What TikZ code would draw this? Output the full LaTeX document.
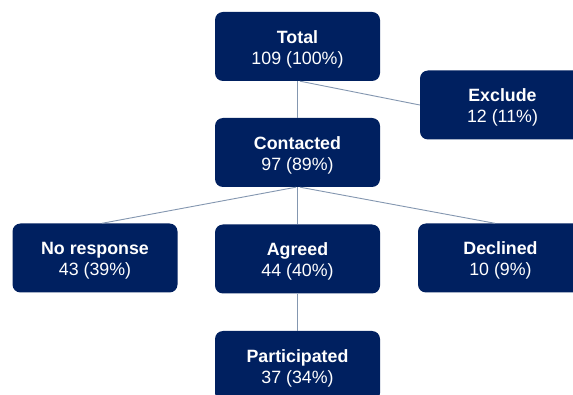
\documentclass[tikz,border=0pt]{standalone}
\usepackage{fontspec}
\setmainfont{Liberation Sans}
\usetikzlibrary{calc}
\definecolor{boxblue}{HTML}{002060}
\definecolor{linkblue}{HTML}{8497B0}
\newcommand{\fbtext}[2]{\rule{0pt}{18pt}\textbf{#1}\\#2}
\begin{document}
\begin{tikzpicture}[x=1pt,y=-1pt,
  flowbox/.style={draw=none,fill=boxblue,rounded corners=8pt,minimum width=165pt,minimum height=69pt,
    text=white,align=center,font=\fontsize{17.8pt}{21pt}\selectfont,inner sep=0pt},
  link/.style={draw=linkblue,line width=0.9pt}]
\clip (0,0) rectangle (573,395);
\fill[white] (0,0) rectangle (573,395);
\node[flowbox] (total) at (297.5,46.5) {\fbtext{Total}{109 (100\%)}};
\node[flowbox] (exclude) at (502.5,105) {\fbtext{Exclude}{12 (11\%)}};
\node[flowbox] (contacted) at (297.5,152.5) {\fbtext{Contacted}{97 (89\%)}};
\node[flowbox] (noresp) at (95,258) {\fbtext{No response}{43 (39\%)}};
\node[flowbox] (agreed) at (297.5,259) {\fbtext{Agreed}{44 (40\%)}};
\node[flowbox] (declined) at (500.5,258) {\fbtext{Declined}{10 (9\%)}};
\node[flowbox,minimum height=70pt] (particip) at (297.5,366) {\fbtext{Participated}{37 (34\%)}};
\draw[link] (total.south) -- (contacted.north);
\draw[link] ($(total.south)+(2.5,0)$) -- (exclude.west);
\draw[link] ($(contacted.south)+(-1.5,0)$) -- ($(noresp.north)+(7,0)$);
\draw[link] (contacted.south) -- (agreed.north);
\draw[link] ($(contacted.south)+(2.5,0)$) -- ($(declined.north)+(-5.5,0)$);
\draw[link] (agreed.south) -- (particip.north);
\end{tikzpicture}
\end{document}
